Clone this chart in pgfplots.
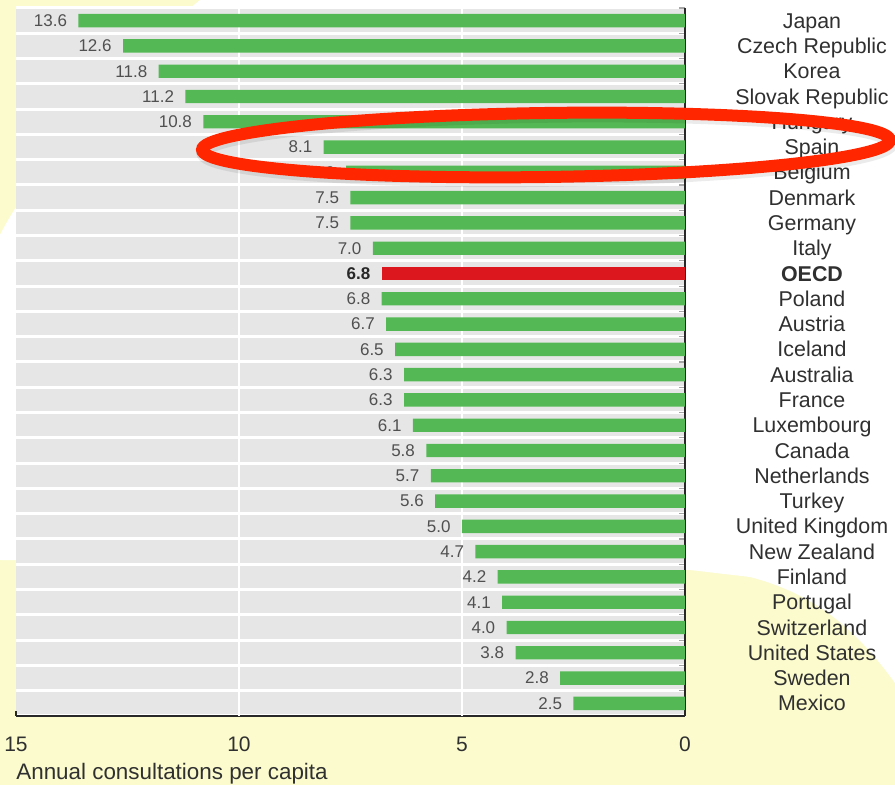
\documentclass[border=0pt]{standalone}
\usepackage{pgfplots}
\pgfplotsset{compat=1.18}
\usepackage{pgfplotstable}
\usepackage{fontspec}
\setmainfont{Liberation Sans}

\definecolor{barGreen}{RGB}{84,185,84}
\definecolor{barRed}{RGB}{220,24,30}
\definecolor{rowGray}{RGB}{230,230,230}
\definecolor{paleYellow}{RGB}{251,251,206}
\definecolor{txt}{RGB}{48,48,48}
\definecolor{valGray}{RGB}{80,80,80}
\definecolor{ringRed}{RGB}{255,38,0}
\definecolor{axisDark}{RGB}{40,40,40}

% Annual doctor consultations per capita (row 10 = OECD average, drawn separately)
\pgfplotstableread{
idx value
0 13.6
1 12.6
2 11.8
3 11.2
4 10.8
5 8.1
6 7.6
7 7.5
8 7.5
9 7.0
11 6.8
12 6.7
13 6.5
14 6.3
15 6.3
16 6.1
17 5.8
18 5.7
19 5.6
20 5.0
21 4.7
22 4.2
23 4.1
24 4.0
25 3.8
26 2.8
27 2.5
}\consultations

\pgfplotstableread{
idx value
10 6.8
}\oecdavg

\begin{document}
\begin{tikzpicture}
% page background
\fill[paleYellow] (0,0) rectangle (447.5pt,392.5pt);
\fill[white] (0,112.5pt) -- (0,275pt) .. controls (12pt,300pt) and (60pt,360pt) .. (100pt,392.5pt)
  -- (447.5pt,392.5pt) -- (447.5pt,51pt) .. controls (430pt,75pt) and (410pt,95pt) .. (375pt,104pt)
  -- (345pt,107.5pt) -- cycle;

\begin{axis}[
  at={(8pt,34.5pt)}, anchor=south west,
  scale only axis, width=334.5pt, height=354pt,
  xbar, bar width=6.7pt,
  x dir=reverse, y dir=reverse,
  xmin=0, xmax=15, ymin=-0.5, ymax=27.5,
  axis x line*=bottom, axis y line*=right,
  axis line style={draw=axisDark, line width=1pt, -},
  axis background/.style={fill=rowGray},
  /pgf/number format/assume math mode=true,
  xtick={0,5,10,15},
  xticklabel style={anchor=base, yshift=-18pt, font=\fontsize{10.5}{11}\selectfont, text=txt},
  tick align=inside,
  major x tick style={draw=axisDark, line width=0.6pt},
  major tick length=2.5pt,
  extra x ticks={5,10}, extra x tick labels={},
  extra x tick style={grid=major, major tick length=0pt},
  major grid style={white, line width=1pt},
  ytick={0,...,27},
  yticklabels={Japan, Czech Republic, Korea, Slovak Republic, Hungary, Spain, Belgium,
    Denmark, Germany, Italy, \textbf{OECD}, Poland, Austria, Iceland, Australia, France,
    Luxembourg, Canada, Netherlands, Turkey, United Kingdom, New Zealand, Finland,
    Portugal, Switzerland, United States, Sweden, Mexico},
  yticklabel pos=right,
  yticklabel style={anchor=base, xshift=63.5pt, yshift=-3.8pt,
    font=\fontsize{10.7}{11}\selectfont, text=txt},
  major y tick style={draw=none},
  minor ytick={-0.5,0.5,...,27.5},
  yminorgrids,
  minor grid style={white, line width=1.5pt},
  minor y tick style={draw=gray!70, line width=0.6pt},
  minor tick length=3pt,
  xlabel={Annual consultations per capita},
  xlabel style={at={(axis description cs:0,0)}, anchor=base west, yshift=-32pt,
    inner sep=0pt, font=\fontsize{11.2}{12}\selectfont, text=txt},
  clip=false,
]
\addplot[fill=barGreen, draw=none, bar shift=0pt,
  nodes near coords={\pgfmathprintnumber[fixed, fixed zerofill, precision=1]{\pgfplotspointmeta}},
  point meta=x,
  every node near coord/.style={anchor=east, inner sep=0pt, xshift=-5.5pt,
    font=\fontsize{8.5}{8.5}\selectfont, text=valGray}]
  table[x=value, y=idx] {\consultations};
\addplot[fill=barRed, draw=none, bar shift=0pt,
  nodes near coords={\pgfmathprintnumber[fixed, fixed zerofill, precision=1]{\pgfplotspointmeta}},
  point meta=x,
  every node near coord/.style={anchor=east, inner sep=0pt, xshift=-5.5pt,
    font=\fontsize{8.5}{8.5}\selectfont\bfseries, text=axisDark}]
  table[x=value, y=idx] {\oecdavg};
\end{axis}

% highlight ring around Spain
\draw[black, opacity=0.08, line width=7pt, rotate around={0.8:(273pt,319pt)}]
  (273.6pt,318.6pt) ellipse [x radius=172pt, y radius=16pt];
\draw[ringRed, line width=6pt, rotate around={0.8:(273pt,320pt)}]
  (273pt,320pt) ellipse [x radius=172pt, y radius=16pt];

\pgfresetboundingbox
\useasboundingbox (0,0) rectangle (447.5pt,392.5pt);
\end{tikzpicture}
\end{document}
